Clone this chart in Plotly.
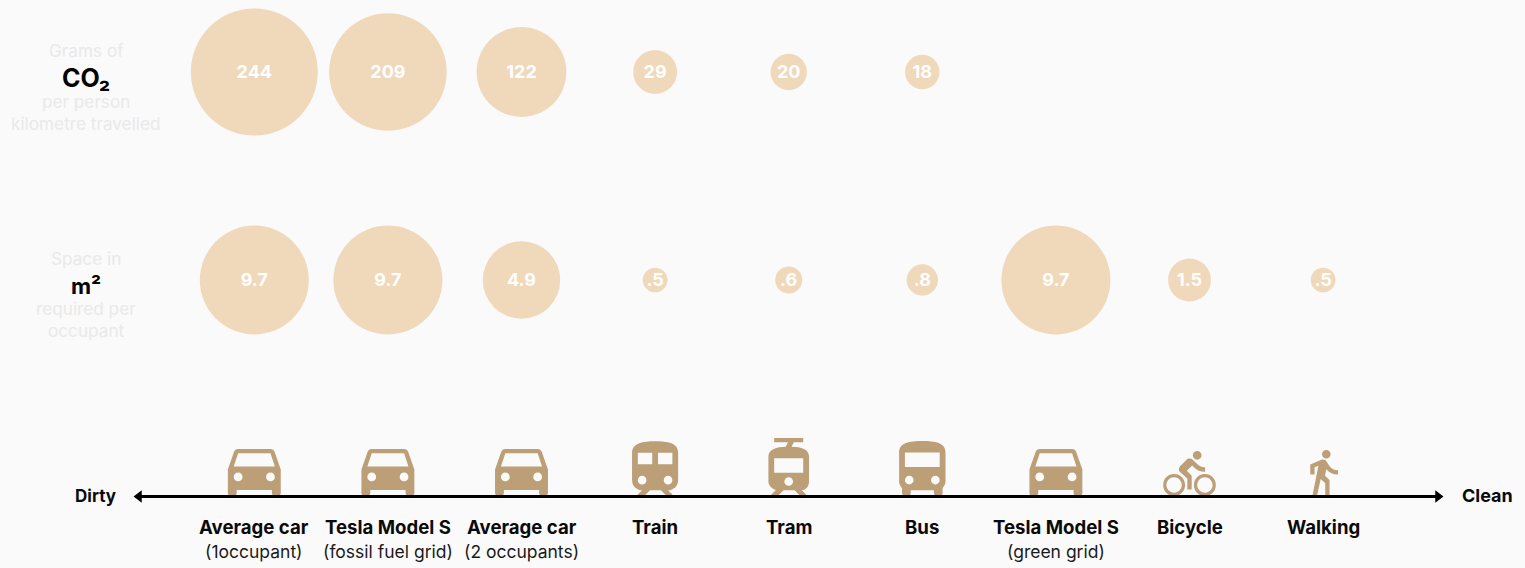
import base64
import plotly.graph_objects as go

# ---- data ----
categories = ["Average car", "Tesla Model S", "Average car", "Train", "Tram", "Bus",
              "Tesla Model S", "Bicycle", "Walking"]
subtitles = ["(1occupant)", "(fossil fuel grid)", "(2 occupants)", "", "", "", "(green grid)", "", ""]
icons = ["car", "car", "car", "train", "tram", "bus", "car", "bike", "walk"]
co2_grams = [244, 209, 122, 29, 20, 18, None, None, None]
space_m2 = [9.7, 9.7, 4.9, 0.5, 0.6, 0.8, 9.7, 1.5, 0.5]
row1_labels = ["Grams of", "CO₂", "per person", "kilometre travelled"]
row2_labels = ["Space in", "m²", "required per", "occupant"]

# ---- style / layout ----
W, H = 1525, 568
X0, DX = 254.3, 133.6
BG, BUBBLE, ICON, FAINT = "#fafafa", "#f0d8bb", "#bc9e77", "#e9e9e9"
FONT = "Inter"
ROW1_Y, ROW2_Y, AXIS_Y = 72, 280, 496.5

ICON_PATHS = {
    "car": ("M18.92 6.01C18.72 5.42 18.16 5 17.5 5h-11c-.66 0-1.21.42-1.42 1.01L3 12v8c0 .55.45 1 1 1h1c.55 0 1-.45 1-1v-1h12v1c0 .55.45 1 1 1h1c.55 0 1-.45 1-1v-8l-2.08-5.99zM6.5 16c-.83 0-1.5-.67-1.5-1.5S5.67 13 6.5 13s1.5.67 1.5 1.5S7.33 16 6.5 16zm11 0c-.83 0-1.5-.67-1.5-1.5s.67-1.5 1.5-1.5 1.5.67 1.5 1.5-.67 1.5-1.5 1.5zM5 11l1.5-4.5h11L19 11H5z", 2.94, 21),
    "train": ("M12 2c-4 0-8 .5-8 4v9.5C4 17.43 5.57 19 7.5 19L6 20.5v.5h2.23l2-2H14l2 2h2v-.5L16.5 19c1.93 0 3.5-1.57 3.5-3.5V6c0-3.5-3.58-4-8-4zM7.5 17c-.83 0-1.5-.67-1.5-1.5S6.67 14 7.5 14s1.5.67 1.5 1.5S8.33 17 7.5 17zm3.5-7H6V6h5v4zm2 0V6h5v4h-5zm3.5 7c-.83 0-1.5-.67-1.5-1.5s.67-1.5 1.5-1.5 1.5.67 1.5 1.5-.67 1.5-1.5 1.5z", 2.88, 21),
    "tram": ("M19 16.94V8.5c0-2.79-2.61-3.4-6.01-3.49l.76-1.51H17V2H7v1.5h4.75l-.76 1.52C7.86 5.11 5 5.73 5 8.5v8.44c0 1.45 1.19 2.66 2.59 2.97L6 21.5v.5h2.23l2-2H14l2 2h2v-.5L16.5 20h-.08c1.69 0 2.58-1.37 2.58-3.06zm-7 1.56c-.83 0-1.5-.67-1.5-1.5s.67-1.5 1.5-1.5 1.5.67 1.5 1.5-.67 1.5-1.5 1.5zm5-4.5H7V9h10v5z", 2.9, 22),
    "bus": ("M4 16c0 .88.39 1.67 1 2.22V20c0 .55.45 1 1 1h1c.55 0 1-.45 1-1v-1h8v1c0 .55.45 1 1 1h1c.55 0 1-.45 1-1v-1.78c.61-.55 1-1.34 1-2.22V6c0-3.5-3.58-4-8-4s-8 .5-8 4v10zm3.5 1c-.83 0-1.5-.67-1.5-1.5S6.67 14 7.5 14s1.5.67 1.5 1.5S8.33 17 7.5 17zm9 0c-.83 0-1.5-.67-1.5-1.5s.67-1.5 1.5-1.5 1.5.67 1.5 1.5-.67 1.5-1.5 1.5zm1.5-6H6V6h12v5z", 2.9, 21),
    "bike": ("M15.5 5.5c1.1 0 2-.9 2-2s-.9-2-2-2-2 .9-2 2 .9 2 2 2zM5 12c-2.8 0-5 2.2-5 5s2.2 5 5 5 5-2.2 5-5-2.2-5-5-5zm0 8.5c-1.9 0-3.5-1.6-3.5-3.5s1.6-3.5 3.5-3.5 3.5 1.6 3.5 3.5-1.6 3.5-3.5 3.5zm5.8-10l2.4-2.4.8.8c1.3 1.3 3 2.1 5.1 2.1V9c-1.5 0-2.7-.6-3.6-1.5l-1.9-1.9c-.5-.4-1-.6-1.6-.6s-1.1.2-1.4.6L7.8 8.4c-.4.4-.6.9-.6 1.4 0 .6.2 1.1.6 1.4L11 14v5h2v-6.2l-2.2-2.3zM19 12c-2.8 0-5 2.2-5 5s2.2 5 5 5 5-2.2 5-5-2.2-5-5-5zm0 8.5c-1.9 0-3.5-1.6-3.5-3.5s1.6-3.5 3.5-3.5 3.5 1.6 3.5 3.5-1.6 3.5-3.5 3.5z", 2.2, 22),
    "walk": ("M13.5 5.5c1.1 0 2-.9 2-2s-.9-2-2-2-2 .9-2 2 .9 2 2 2zM9.8 8.9L7 23h2.1l1.8-8 2.1 2v6h2v-7.5l-2.1-2 .6-3C14.8 12 16.8 13 19 13v-2c-1.9 0-3.5-1-4.3-2.4l-1-1.6c-.4-.6-1-1-1.7-1-.3 0-.5.1-.8.1L6 8.3V13h2V9.6l1.8-.7", 2.14, 23),
}


def px_to_index(px):
    return (px - X0) / DX


def icon_uri(path):
    svg = (f'<svg xmlns="http://www.w3.org/2000/svg" width="240" height="240" viewBox="0 0 24 24">'
           f'<path fill="{ICON}" d="{path}"/></svg>')
    return "data:image/svg+xml;base64," + base64.b64encode(svg.encode()).decode()


def fmt(v):
    s = str(v)
    return s[1:] if s.startswith("0.") else s


fig = go.Figure()


def bubble_row(values, y, max_diameter, text_dy):
    idx = [i for i, v in enumerate(values) if v is not None]
    vals = [values[i] for i in idx]
    fig.add_trace(go.Scatter(
        x=idx, y=[y] * len(idx), mode="markers",
        marker=dict(size=vals, sizemode="area", color=BUBBLE, line_width=0, opacity=1,
                    sizeref=2 * max(vals) / max_diameter ** 2),
        cliponaxis=False, showlegend=False, hoverinfo="skip"))
    fig.add_trace(go.Scatter(
        x=idx, y=[y + text_dy] * len(idx), mode="text",
        text=[fmt(v) for v in vals], textposition="middle center",
        textfont=dict(family=FONT, size=18, color="white", weight=700),
        cliponaxis=False, showlegend=False, hoverinfo="skip"))


bubble_row(co2_grams, ROW1_Y, 127, 1.5)
bubble_row(space_m2, ROW2_Y, 109, 1)

# direction axis
fig.add_trace(go.Scatter(
    x=[px_to_index(139), px_to_index(1438)], y=[AXIS_Y, AXIS_Y], mode="lines+markers",
    line=dict(color="black", width=3),
    marker=dict(symbol=["triangle-left", "triangle-right"], size=11, color="black", line_width=0),
    showlegend=False, hoverinfo="skip"))

images, annotations = [], []
for i, key in enumerate(icons):
    path, scale, bottom = ICON_PATHS[key]
    images.append(dict(source=icon_uri(path), xref="x", yref="y", x=i, y=496 - bottom * scale,
                       sizex=24 * scale / DX, sizey=24 * scale, xanchor="center", yanchor="top",
                       sizing="stretch", layer="below"))
    annotations.append(dict(x=i, y=527, text=categories[i], showarrow=False, xanchor="center",
                            yanchor="middle", font=dict(family=FONT, size=18.6, color="#0a0a0a", weight=700)))
    if subtitles[i]:
        annotations.append(dict(x=i, y=551.5, text=subtitles[i], showarrow=False, xanchor="center",
                                yanchor="middle", font=dict(family=FONT, size=17.5, color="#1a1a1a")))

for labels, ys in ((row1_labels, (50, 78, 101, 123)), (row2_labels, (258, 286, 308, 330))):
    for j, (text, y) in enumerate(zip(labels, ys)):
        bold = j == 1
        annotations.append(dict(
            x=px_to_index(86), y=y, text=text, showarrow=False, xanchor="center", yanchor="middle",
            font=dict(family=FONT, size=25 if "CO" in text else 22 if bold else 17.2,
                      color="black" if bold else FAINT, weight=700 if bold else 400)))

for text, px, size in (("Dirty", 95, 17), ("Clean", 1487, 18)):
    annotations.append(dict(x=px_to_index(px), y=AXIS_Y - 1, text=text, showarrow=False, xanchor="center",
                            yanchor="middle", font=dict(family=FONT, size=size, color="#0a0a0a", weight=700)))

fig.update_layout(
    width=W, height=H, margin=dict(l=0, r=0, t=0, b=0),
    paper_bgcolor=BG, plot_bgcolor=BG,
    xaxis=dict(range=[px_to_index(0), px_to_index(W)], visible=False, fixedrange=True),
    yaxis=dict(range=[H, 0], visible=False, fixedrange=True),
    images=images, annotations=annotations,
)
fig.write_html("out.html", config={"displayModeBar": False},
               post_script="document.body.style.margin='0';document.body.style.overflow='hidden';")
